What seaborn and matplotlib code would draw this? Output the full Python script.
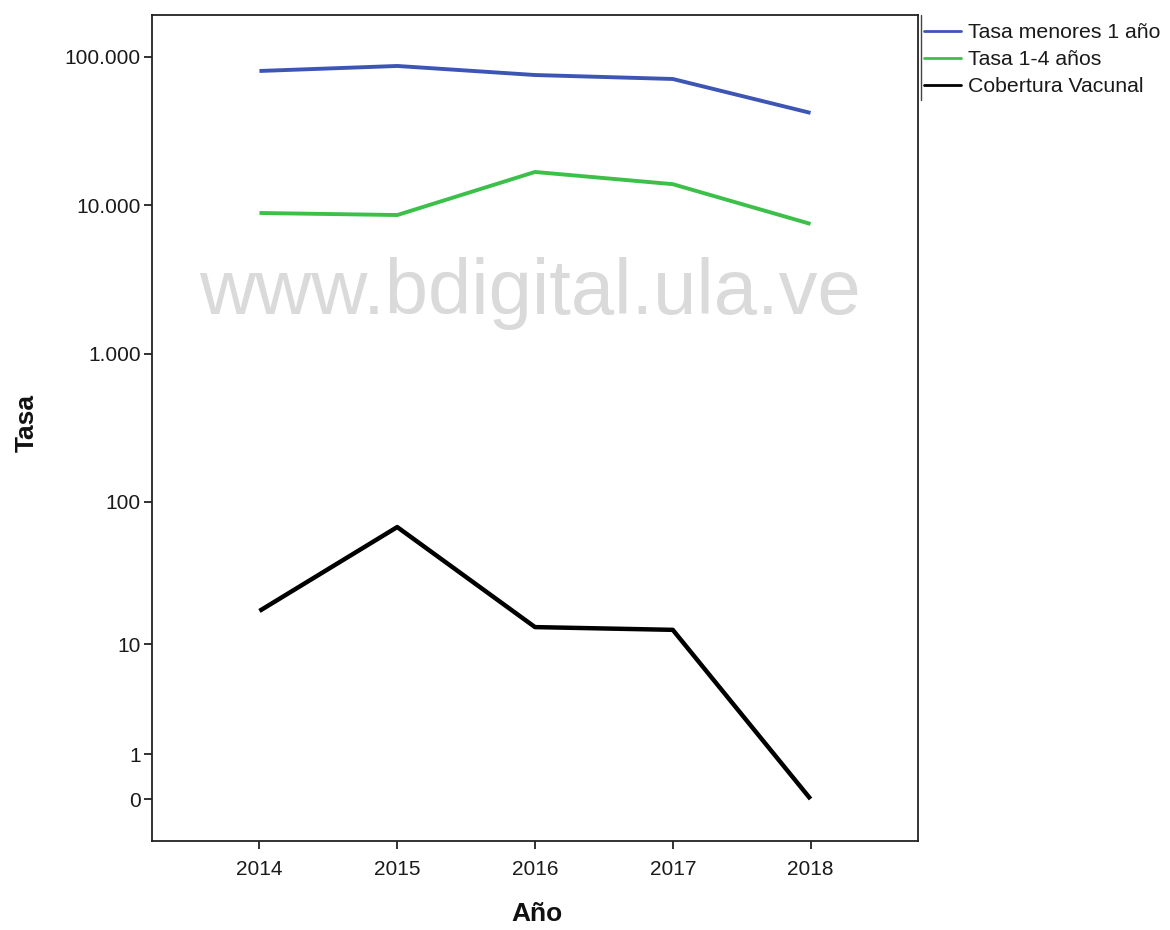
import numpy as np
import pandas as pd
import matplotlib
matplotlib.use("Agg")
import matplotlib.pyplot as plt
import seaborn as sns
from matplotlib.ticker import FixedLocator, FuncFormatter
from matplotlib.lines import Line2D

years = [2014, 2015, 2016, 2017, 2018]
tasa_menores_1 = [80500, 87000, 75600, 71100, 42000]
tasa_1_4 = [8890, 8610, 16800, 13900, 7500]
cobertura = [17.5, 67, 13.4, 12.8, 0]
series_names = ["Tasa menores 1 año", "Tasa 1-4 años", "Cobertura Vacunal"]
series_colors = ["#3d55b5", "#3cc04a", "#000000"]
y_ticks = [0, 1, 10, 100, 1000, 10000, 100000]

df = pd.DataFrame({
    "Año": years * 3,
    "Tasa": tasa_menores_1 + tasa_1_4 + cobertura,
    "Serie": [series_names[0]] * 5 + [series_names[1]] * 5 + [series_names[2]] * 5,
})

sns.set_theme(style="white")
plt.rcParams["font.family"] = ["Liberation Sans", "DejaVu Sans"]

fig = plt.figure(figsize=(11.7, 9.3), dpi=100)
ax = fig.add_axes([152 / 1170, 89 / 930, (918 - 152) / 1170, (841 - 15) / 930])

sns.lineplot(data=df, x="Año", y="Tasa", hue="Serie", hue_order=series_names,
             palette=series_colors, ax=ax, legend=False, linewidth=2.6)
for line, lw in zip(ax.lines, [2.8, 2.8, 3.2]):
    line.set_linewidth(lw)
    line.set_solid_capstyle("butt")

fwd = lambda v: np.log10(np.clip(v, -0.999, None) + 1)
inv = lambda v: 10 ** v - 1
ax.set_yscale("function", functions=(fwd, inv))
ax.set_ylim(inv(-0.283), inv(5.283))
ax.set_xlim(2013.22, 2018.78)
ax.yaxis.set_major_locator(FixedLocator(y_ticks))
ax.yaxis.set_minor_locator(FixedLocator([]))
ax.yaxis.set_major_formatter(FuncFormatter(lambda v, p: f"{int(round(v)):,}".replace(",", ".")))
ax.set_xticks(years)
ax.set_xticklabels([str(y) for y in years])

for s in ax.spines.values():
    s.set_color("#222222")
    s.set_linewidth(1.3)
ax.tick_params(axis="both", which="major", direction="out", length=6, width=1.3,
               color="#222222", labelsize=15, labelcolor="#1a1a1a", pad=2,
               left=True, bottom=True)
ax.tick_params(axis="x", pad=8)

ax.set_xlabel("Año", fontsize=19, fontweight="bold", color="#111111")
ax.set_ylabel("Tasa", fontsize=19, fontweight="bold", color="#111111")
ax.xaxis.set_label_coords((537 - 152) / 766, -(914 - 841) / 826)
ax.yaxis.set_label_coords(-(152 - 27) / 766, (841 - 423) / 826)
ax.xaxis.label.set_va("center")
ax.yaxis.label.set_va("center")

# watermark
fig.text(530 / 1170, 1 - 293 / 930, "www.bdigital.ula.ve", fontsize=56,
         color="#dadada", ha="center", va="center", zorder=0)

# legend (SPSS style)
handles = [Line2D([0], [0], color=c, lw=2) for c in series_colors]
leg = fig.legend(handles, series_names, loc="upper left",
                 bbox_to_anchor=(921 / 1170, 1 - 20 / 930), frameon=False,
                 fontsize=15.3, handlelength=1.75, handletextpad=0.3,
                 labelspacing=0.38, borderaxespad=0, borderpad=0.15,
                 labelcolor="#1a1a1a")
fig.add_artist(Line2D([921 / 1170, 921 / 1170], [1 - 15 / 930, 1 - 100 / 930],
                      transform=fig.transFigure, color="#444444", lw=1))

fig.savefig("out.png", dpi=100)
